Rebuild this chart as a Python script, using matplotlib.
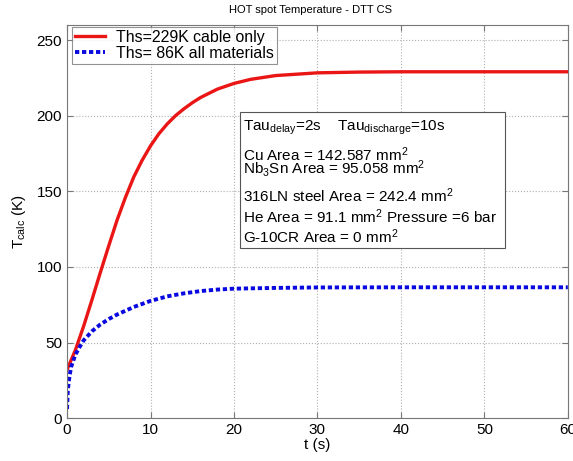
import matplotlib
matplotlib.use("Agg")
import matplotlib.pyplot as plt
from matplotlib.patches import Rectangle

plt.rcParams["font.family"] = ["Liberation Sans", "DejaVu Sans"]
plt.rcParams["mathtext.fontset"] = "custom"
plt.rcParams["mathtext.rm"] = "Liberation Sans"
plt.rcParams["mathtext.it"] = "Liberation Sans"

# temperature curves
t_cable = [0, 1, 2, 3, 4, 5, 6, 7, 8, 9, 10, 11, 12, 13, 14, 15, 16, 18,
           20, 22, 25, 30, 35, 40, 50, 60]
T_cable = [32, 45, 61, 78.5, 96.5, 114, 131, 146, 159.5, 170.5, 180, 188, 194.5,
           200, 204.5, 208.5, 212, 217.5, 221.3, 224, 226.5, 228.3, 228.8, 229, 229, 229]

t_all = [0, 0.1, 0.3, 0.5, 1, 1.5, 2, 3, 4, 5, 6, 7, 8, 10, 12, 14, 16, 18, 20,
         25, 30, 40, 50, 60]
T_all = [6, 19, 28, 34, 42, 47, 51.5, 57.5, 62, 65.5, 68.5, 71, 73.5, 77.5, 80.5,
         82.5, 84, 85, 85.6, 86.1, 86.4, 86.5, 86.5, 86.5]

labels = ["Ths=229K cable only", "Ths= 86K all materials"]

info_lines = ["Tau$_{\\rm delay}$=2s    Tau$_{\\rm discharge}$=10s",
              "Cu Area = 142.587 mm$^2$",
              "Nb$_3$Sn Area = 95.058 mm$^2$",
              "316LN steel Area = 242.4 mm$^2$",
              "He Area = 91.1 mm$^2$ Pressure =6 bar",
              "G-10CR Area = 0 mm$^2$"]
info_y = [189.9, 170.1, 162.0, 143.2, 128.9, 115.7]

fig = plt.figure(figsize=(5.73, 4.61), dpi=100)
ax = fig.add_axes([0.117, 0.093, 0.874, 0.853])

ax.plot(t_cable, T_cable, color="#ea1515", lw=2.4, label=labels[0])
ax.plot(t_all, T_all, color="#0a0ae0", lw=2.8, ls=(0, (1.1, 0.7)), label=labels[1])

ax.set_xlim(0, 60)
ax.set_ylim(0, 260)
ax.set_xticks(range(0, 61, 10))
ax.set_yticks(range(0, 251, 50))
ax.grid(True, ls=":", color="#b0b0b0", lw=0.8)
ax.tick_params(direction="in", top=True, right=True, labelsize=11, color="#777777",
               length=4)
for s in ax.spines.values():
    s.set_color("#777777")

ax.set_xlabel("t (s)", fontsize=11, labelpad=1)
ax.set_ylabel("T$_{\\rm calc}$ (K)", fontsize=11, labelpad=6)
fig.text(310 / 573, 1 - 10 / 461, "HOT spot Temperature - DTT CS", fontsize=8,
         ha="center", va="center")

leg = ax.legend(loc="upper left", fontsize=11.4, handlelength=1.9, borderpad=0.2,
                labelspacing=0.05, fancybox=False, bbox_to_anchor=(0.01, 0.995),
                borderaxespad=0.0, handletextpad=0.7)
leg.get_frame().set_edgecolor("#777777")
leg.get_frame().set_linewidth(0.8)

ax.add_patch(Rectangle((20.7, 112.4), 31.8, 89.8, facecolor="white",
                       edgecolor="#555555", lw=0.8, zorder=4))
for line, y in zip(info_lines, info_y):
    ax.text(21.1, y, line, fontsize=11, va="baseline", ha="left", zorder=5)

fig.savefig("out.png", dpi=100)
